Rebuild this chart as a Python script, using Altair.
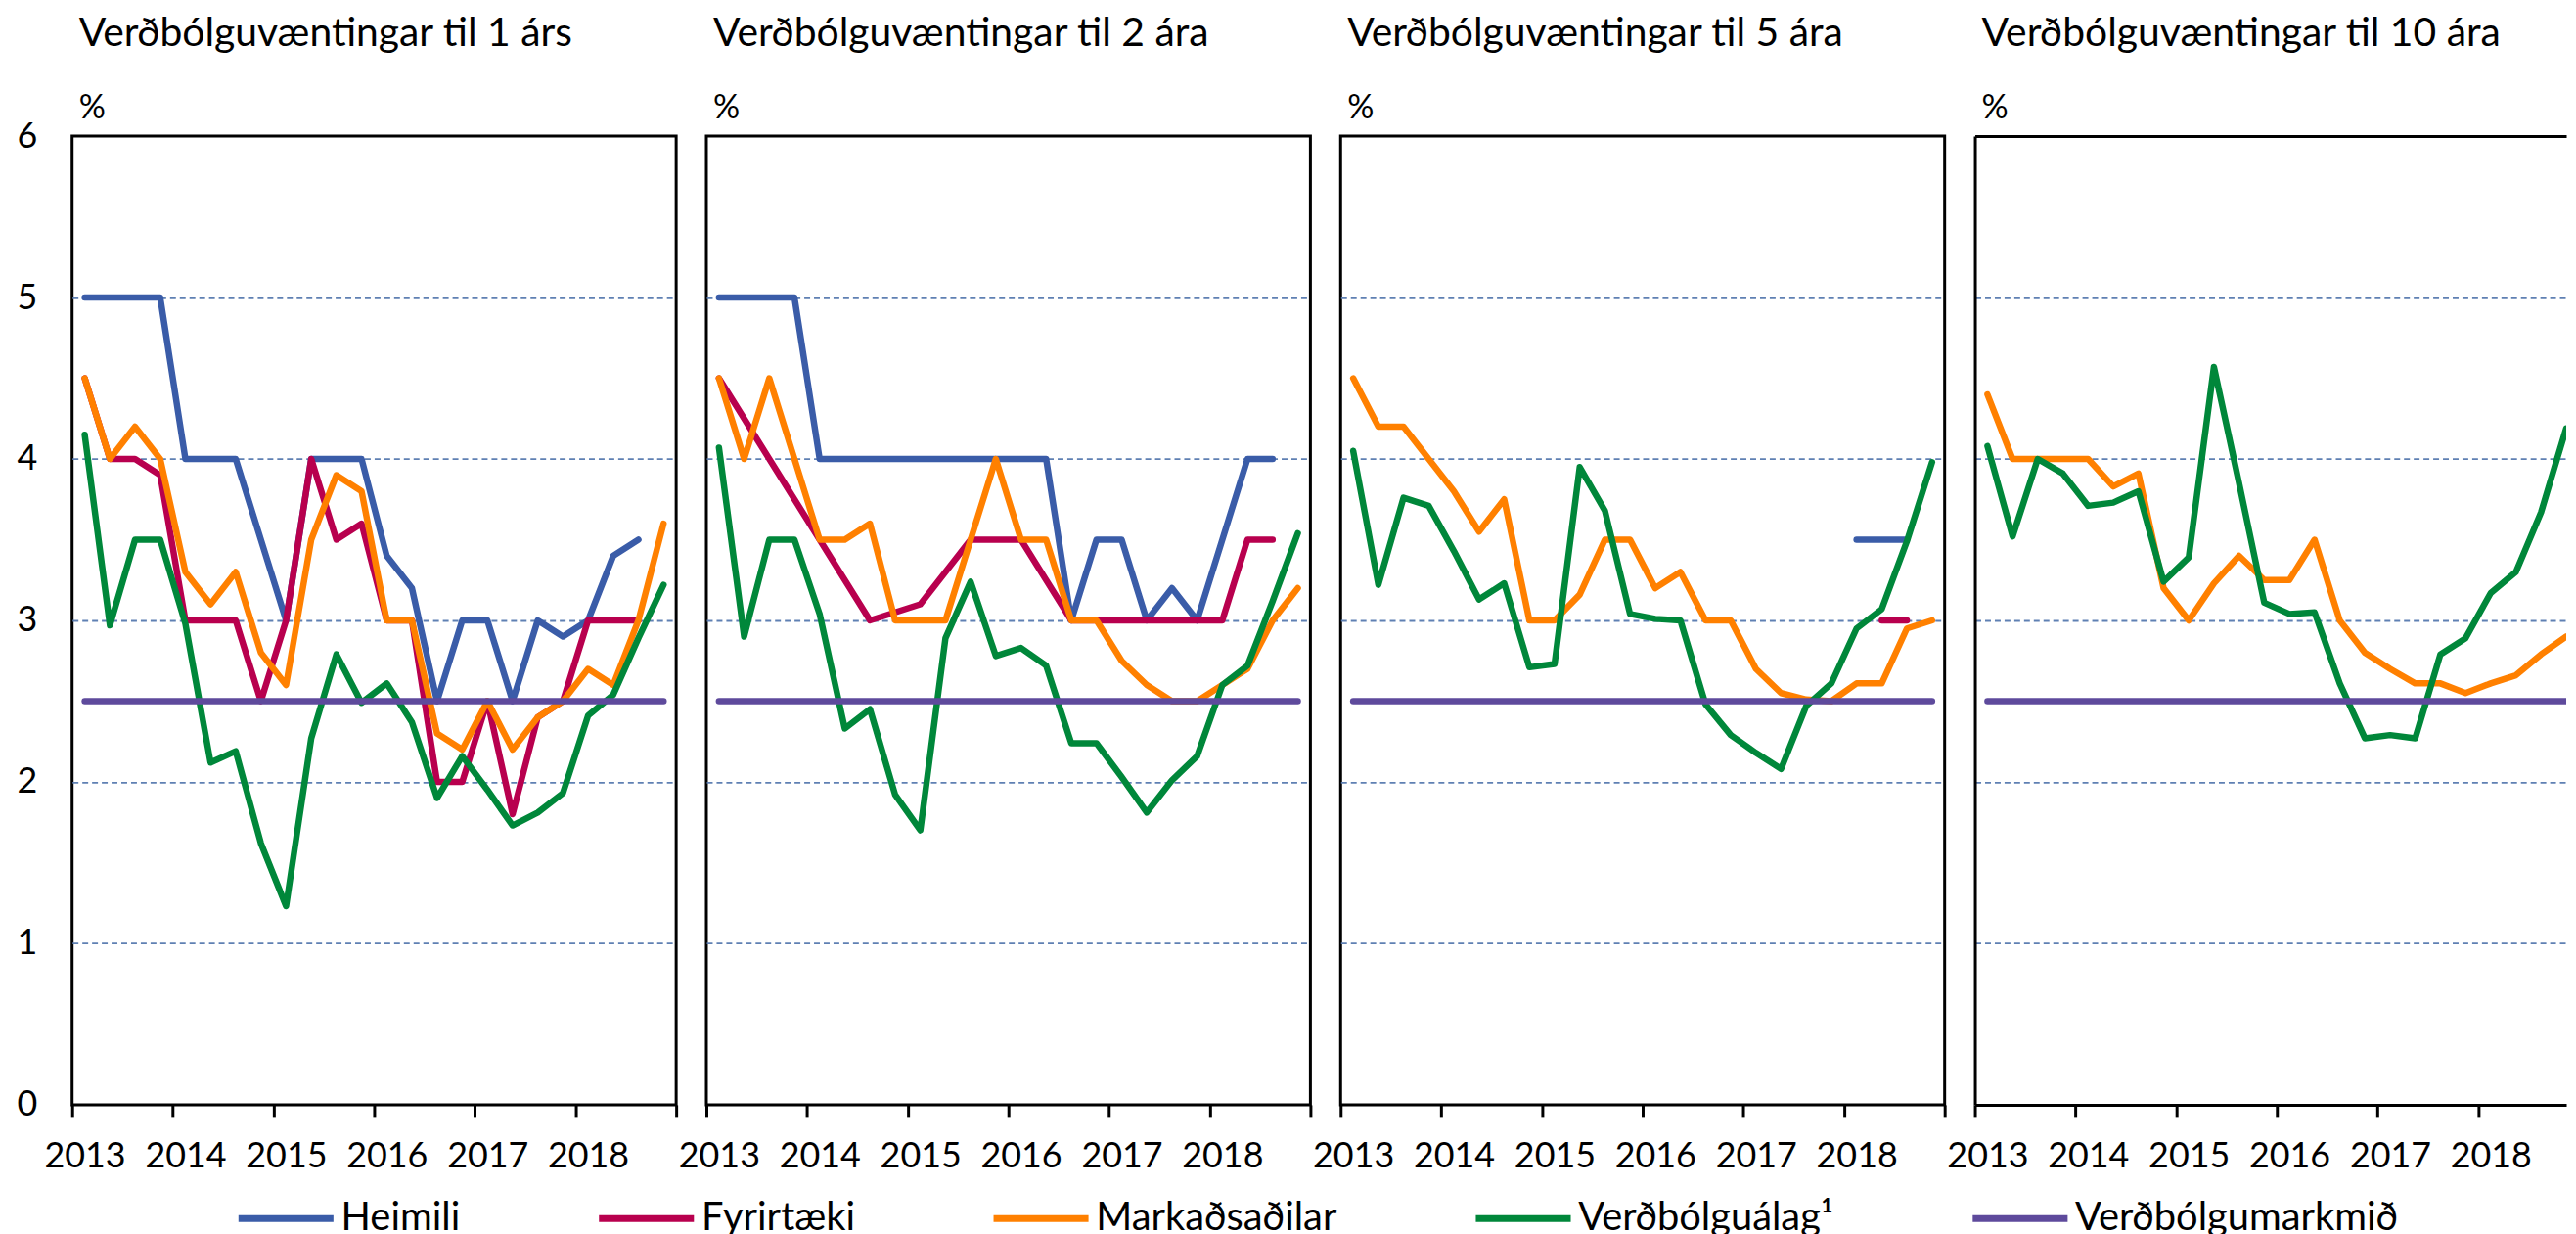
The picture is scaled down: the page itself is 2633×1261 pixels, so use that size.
import altair as alt
import pandas as pd

# ---------------- data (quarterly, 2013Q1 .. 2018Q4) ----------------
quarter_index = list(range(24))

series_names = ["Heimili", "Fyrirtæki", "Markaðsaðilar", "Verðbólguálag¹", "Verðbólgumarkmið"]
series_colors = ["#3A5CA8", "#B8004E", "#FF8000", "#00873A", "#5E4A9C"]

panel_titles = [
    "Verðbólguvæntingar til 1 árs",
    "Verðbólguvæntingar til 2 ára",
    "Verðbólguvæntingar til 5 ára",
    "Verðbólguvæntingar til 10 ára",
]

target = [2.5, 2.5, 2.5, 2.5, 2.5, 2.5, 2.5, 2.5, 2.5, 2.5, 2.5, 2.5,
          2.5, 2.5, 2.5, 2.5, 2.5, 2.5, 2.5, 2.5, 2.5, 2.5, 2.5, 2.5]

# 1 year
heimili_1 = [5, 5, 5, 5, 4, 4, 4, 3.5, 3, 4, 4, 4, 3.4, 3.2, 2.5, 3, 3, 2.5, 3, 2.9, 3, 3.4, 3.5, None]
fyrirtaeki_1 = [4.5, 4, 4, 3.9, 3, 3, 3, 2.5, 3, 4, 3.5, 3.6, 3, 3, 2, 2, 2.5, 1.8, 2.4, 2.5, 3, 3, 3, None]
markad_1 = [4.5, 4, 4.2, 4, 3.3, 3.1, 3.3, 2.8, 2.6, 3.5, 3.9, 3.8, 3, 3, 2.3, 2.2, 2.5, 2.2, 2.4, 2.5, 2.7, 2.6, 3, 3.6]
alag_1 = [4.15, 2.97, 3.5, 3.5, 2.98, 2.12, 2.19, 1.62, 1.23, 2.27, 2.79, 2.49, 2.61, 2.37, 1.9, 2.16, 1.95, 1.73, 1.81, 1.93, 2.41, 2.54, 2.89, 3.22]

# 2 years
heimili_2 = [5, 5, 5, 5, 4, 4, 4, 4, 4, 4, 4, 4, 4, 4, 3, 3.5, 3.5, 3, 3.2, 3, 3.5, 4, 4, None]
fyrirtaeki_2 = [4.5, 4.25, 4, 3.75, 3.5, 3.25, 3, 3.05, 3.1, 3.3, 3.5, 3.5, 3.5, 3.25, 3, 3, 3, 3, 3, 3, 3, 3.5, 3.5, None]
markad_2 = [4.5, 4, 4.5, 4, 3.5, 3.5, 3.6, 3, 3, 3, 3.5, 4, 3.5, 3.5, 3, 3, 2.75, 2.6, 2.5, 2.5, 2.6, 2.7, 3, 3.2]
alag_2 = [4.07, 2.9, 3.5, 3.5, 3.04, 2.33, 2.45, 1.92, 1.7, 2.89, 3.24, 2.78, 2.83, 2.72, 2.24, 2.24, 2.03, 1.81, 2.01, 2.16, 2.6, 2.72, 3.12, 3.54]

# 5 years
heimili_5 = [None, None, None, None, None, None, None, None, None, None, None, None,
             None, None, None, None, None, None, None, None, 3.5, 3.5, 3.5, None]
fyrirtaeki_5 = [None, None, None, None, None, None, None, None, None, None, None, None,
                None, None, None, None, None, None, None, None, None, 3, 3, None]
markad_5 = [4.5, 4.2, 4.2, 4, 3.8, 3.55, 3.75, 3, 3, 3.16, 3.5, 3.5, 3.2, 3.3, 3, 3, 2.7, 2.55, 2.51, 2.5, 2.61, 2.61, 2.95, 3]
alag_5 = [4.05, 3.22, 3.76, 3.71, 3.43, 3.13, 3.23, 2.71, 2.73, 3.95, 3.68, 3.04, 3.01, 3.0, 2.48, 2.29, 2.18, 2.08, 2.47, 2.61, 2.95, 3.07, 3.49, 3.98]

# 10 years
heimili_10 = [None] * 24
fyrirtaeki_10 = [None] * 24
markad_10 = [4.4, 4, 4, 4, 4, 3.83, 3.91, 3.2, 3, 3.23, 3.4, 3.25, 3.25, 3.5, 3, 2.8, 2.7, 2.61, 2.61, 2.55, 2.61, 2.66, 2.79, 2.9]
alag_10 = [4.08, 3.52, 4, 3.91, 3.71, 3.73, 3.8, 3.24, 3.39, 4.57, 3.85, 3.11, 3.04, 3.05, 2.61, 2.27, 2.29, 2.27, 2.79, 2.89, 3.17, 3.3, 3.67, 4.19]

panels = [
    [heimili_1, fyrirtaeki_1, markad_1, alag_1, target],
    [heimili_2, fyrirtaeki_2, markad_2, alag_2, target],
    [heimili_5, fyrirtaeki_5, markad_5, alag_5, target],
    [heimili_10, fyrirtaeki_10, markad_10, alag_10, target],
]

y_ticks = [0, 1, 2, 3, 4, 5, 6]
x_boundaries = [-0.5, 3.5, 7.5, 11.5, 15.5, 19.5, 23.5]

# ---------------- build ----------------
FONT = "Lato"
PLOT_W = 620
PLOT_H = 994
TICK_FS = 36
CAT_W = PLOT_W / 24
half_cat = CAT_W / 2
GRID_COLOR = "#5F80B3"

legend = alt.Legend(
    title=None,
    orient="none",
    legendX=167,
    legendY=1058,
    direction="horizontal",
    symbolType="stroke",
    symbolSize=9500,
    symbolStrokeWidth=7,
    labelFont=FONT,
    labelFontSize=40,
    labelColor="black",
    labelLimit=900,
    labelOffset=4,
    columnPadding=127,
)


def make_panel(k):
    rows = []
    for s_i, vals in enumerate(panels[k]):
        for q, v in zip(quarter_index, vals):
            if v is not None:
                rows.append({"q": q, "value": v, "series": series_names[s_i], "z": s_i})
    df = pd.DataFrame(rows)

    last = (k == 3)
    # the last panel runs past the right edge of the page: its visible part ends at 23.0
    x_max = 23.0 if last else 23.5
    width = round(CAT_W * (x_max + 0.5)) if last else PLOT_W
    ticks = x_boundaries[:-1] if last else x_boundaries

    x_axis = alt.Axis(
        values=ticks,
        labelExpr="datum.value > 23 ? '' : '' + (2013 + (datum.value + 0.5) / 4)",
        labelOffset=half_cat,
        tickSize=12,
        tickWidth=3,
        tickColor="black",
        domain=last,
        domainColor="black",
        domainWidth=3,
        grid=False,
        labelFont=FONT,
        labelFontSize=TICK_FS,
        labelColor="black",
        labelPadding=24,
        labelFlush=False,
        labelOverlap=False,
        title=None,
    )
    if last:
        grid_kw = dict(
            gridColor={"condition": {"test": "datum.value == 6", "value": "black"}, "value": GRID_COLOR},
            gridDash={"condition": {"test": "datum.value == 6", "value": []}, "value": [6, 4]},
            gridWidth={"condition": {"test": "datum.value == 6", "value": 3}, "value": 1.8},
            gridOpacity={"condition": {"test": "datum.value == 0", "value": 0}, "value": 1},
        )
    else:
        grid_kw = dict(
            gridColor=GRID_COLOR,
            gridDash=[6, 4],
            gridWidth=1.8,
            gridOpacity={"condition": {"test": "datum.value == 0 || datum.value == 6", "value": 0}, "value": 1},
        )
    y_axis = alt.Axis(
        values=y_ticks,
        labels=(k == 0),
        ticks=False,
        domain=last,
        domainColor="black",
        domainWidth=3,
        grid=True,
        labelFont=FONT,
        labelFontSize=TICK_FS,
        labelColor="black",
        labelPadding=36,
        title=None,
        **grid_kw,
    )

    props = dict(
        width=width,
        height=PLOT_H,
        title=alt.TitleParams(
            text=panel_titles[k],
            subtitle="%",
            anchor="start",
            frame="group",
            dx=7,
            dy=(TICK_FS / 2 if k == 0 else 0),
            font=FONT,
            fontSize=41,
            fontWeight="normal",
            color="black",
            subtitleFont=FONT,
            subtitleFontSize=34,
            subtitleColor="black",
            subtitlePadding=38,
            offset=10,
        ),
    )
    if last:
        props["view"] = alt.ViewBackground(stroke="transparent")

    return alt.Chart(df).mark_line(
        strokeWidth=6.5, strokeCap="round", strokeJoin="round", clip=last
    ).encode(
        x=alt.X("q:Q", scale=alt.Scale(domain=[-0.5, x_max], nice=False, zero=False), axis=x_axis),
        y=alt.Y("value:Q", scale=alt.Scale(domain=[0, 6], nice=False, zero=True), axis=y_axis),
        color=alt.Color("series:N", scale=alt.Scale(domain=series_names, range=series_colors), legend=legend),
        detail="z:O",
    ).properties(**props)


chart = alt.hconcat(*[make_panel(k) for k in range(4)], spacing=31, bounds="flush").properties(
    padding={"left": 7, "top": 2, "right": 0, "bottom": 0},
    background="white",
).configure_view(stroke="black", strokeWidth=3)

chart.save("out.html", embed_options={"renderer": "svg", "actions": False})
